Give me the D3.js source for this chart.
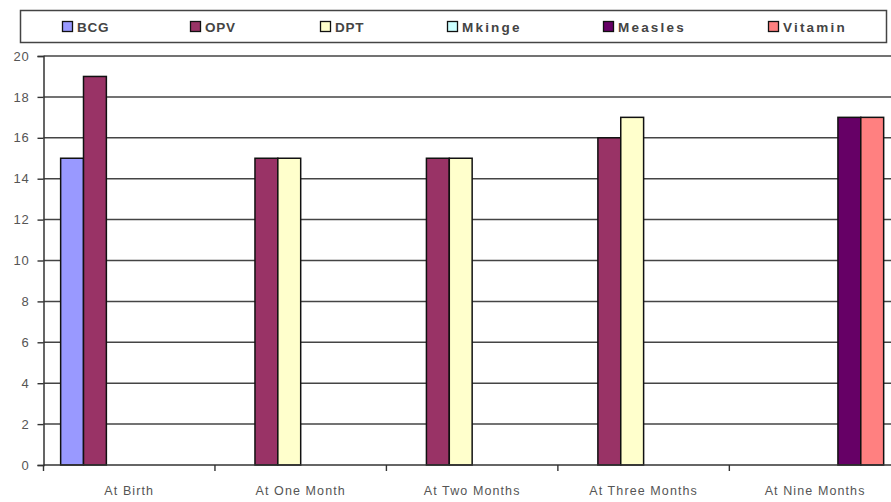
<!DOCTYPE html>
<html>
<head>
<meta charset="utf-8">
<script src="https://cdn.jsdelivr.net/npm/d3@7"></script>
<style>
  html, body { margin: 0; padding: 0; background: #fff; }
  svg { display: block; font-family: "Liberation Sans", Arial, sans-serif; }
</style>
</head>
<body>
<svg id="chart" width="891" height="502"></svg>
<script>
// Immunisation schedule: number of respondents per vaccine at each age
const categories = ["At Birth", "At One Month", "At Two Months", "At Three Months", "At Nine Months"];
const seriesNames = ["BCG", "OPV", "DPT", "Mkinge", "Measles", "Vitamin"];
const bcg     = [15, null, null, null, null];
const opv     = [19, 15, 15, 16, null];
const dpt     = [null, 15, 15, 17, null];
const mkinge  = [null, null, null, null, null];
const measles = [null, null, null, null, 17];
const vitamin = [null, null, null, null, 17];
const yTicks  = [0, 2, 4, 6, 8, 10, 12, 14, 16, 18, 20];

const seriesValues = [bcg, opv, dpt, mkinge, measles, vitamin];
const colors = ["#9999ff", "#993366", "#ffffcc", "#ccffff", "#660066", "#ff8080"];

const svg = d3.select("#chart");
const plot = { left: 43.5, right: 900.8, top: 56, bottom: 465 };

const x0 = d3.scaleBand().domain(categories).range([plot.left, plot.right]).paddingInner(0).paddingOuter(0);
const x1 = d3.scaleBand().domain(seriesNames).range([0, x0.bandwidth()]).paddingInner(0).paddingOuter(0.75);
const y = d3.scaleLinear().domain([0, 20]).range([plot.bottom, plot.top]);

// horizontal gridlines
svg.append("g")
  .selectAll("line")
  .data(yTicks.filter(d => d > 0))
  .join("line")
  .attr("x1", plot.left).attr("x2", 891)
  .attr("y1", d => y(d)).attr("y2", d => y(d))
  .attr("stroke", "#444").attr("stroke-width", 1.5);

// bars
const groups = svg.append("g")
  .selectAll("g")
  .data(categories)
  .join("g")
  .attr("transform", d => `translate(${x0(d)},0)`);

groups.selectAll("rect")
  .data((c, ci) => seriesNames.map((s, si) => ({ s, si, v: seriesValues[si][ci] })).filter(d => d.v != null))
  .join("rect")
  .attr("x", d => x1(d.s))
  .attr("width", x1.bandwidth())
  .attr("y", d => y(d.v))
  .attr("height", d => y(0) - y(d.v))
  .attr("fill", d => colors[d.si])
  .attr("stroke", "#111")
  .attr("stroke-width", 1.5);

// y axis
const yAxis = d3.axisLeft(y).tickValues(yTicks).tickSize(6).tickPadding(8).tickFormat(d3.format("d"));
const gy = svg.append("g").attr("transform", `translate(${plot.left},0)`).call(yAxis);
gy.select(".domain").attr("stroke", "#333").attr("stroke-width", 1.5);
gy.selectAll(".tick line").attr("stroke", "#333").attr("stroke-width", 1.4);
gy.selectAll(".tick text")
  .attr("fill", "#555").style("font-size", "13px").style("letter-spacing", "0.8px")
  .style("font-family", "'Liberation Sans', Arial, sans-serif");

// x axis: baseline with ticks at category boundaries
svg.append("line")
  .attr("x1", plot.left).attr("x2", 891)
  .attr("y1", y(0)).attr("y2", y(0))
  .attr("stroke", "#333").attr("stroke-width", 1.5);
const boundaries = categories.map(c => x0(c));
svg.append("g")
  .selectAll("line")
  .data(boundaries)
  .join("line")
  .attr("x1", d => d).attr("x2", d => d)
  .attr("y1", y(0)).attr("y2", y(0) + 6)
  .attr("stroke", "#333").attr("stroke-width", 1.4);
svg.append("g")
  .selectAll("text")
  .data(categories)
  .join("text")
  .attr("x", d => x0(d) + x0.bandwidth() / 2)
  .attr("y", 495)
  .attr("text-anchor", "middle")
  .attr("fill", "#555")
  .style("font-size", "12.5px")
  .style("letter-spacing", "1.1px")
  .text(d => d);

// legend
const legend = svg.append("g");
legend.append("rect")
  .attr("x", 20.5).attr("y", 10.5).attr("width", 866).attr("height", 32)
  .attr("fill", "#fff").attr("stroke", "#444").attr("stroke-width", 1.5);
const legendX = [62, 190, 320, 447, 603, 768];
const items = legend.selectAll("g.item")
  .data(seriesNames)
  .join("g")
  .attr("class", "item")
  .attr("transform", (d, i) => `translate(${legendX[i]},21)`);
items.append("rect")
  .attr("x", 0.5).attr("y", 0.5).attr("width", 10).attr("height", 10)
  .attr("fill", (d, i) => colors[i])
  .attr("stroke", "#111").attr("stroke-width", 1.3);
items.append("text")
  .attr("x", 15).attr("y", 10.5)
  .attr("fill", "#444")
  .style("font-size", "13.5px")
  .style("font-weight", "600")
  .style("letter-spacing", (d, i) => i >= 3 ? "2.2px" : "0.8px")
  .text(d => d);
</script>
</body>
</html>
